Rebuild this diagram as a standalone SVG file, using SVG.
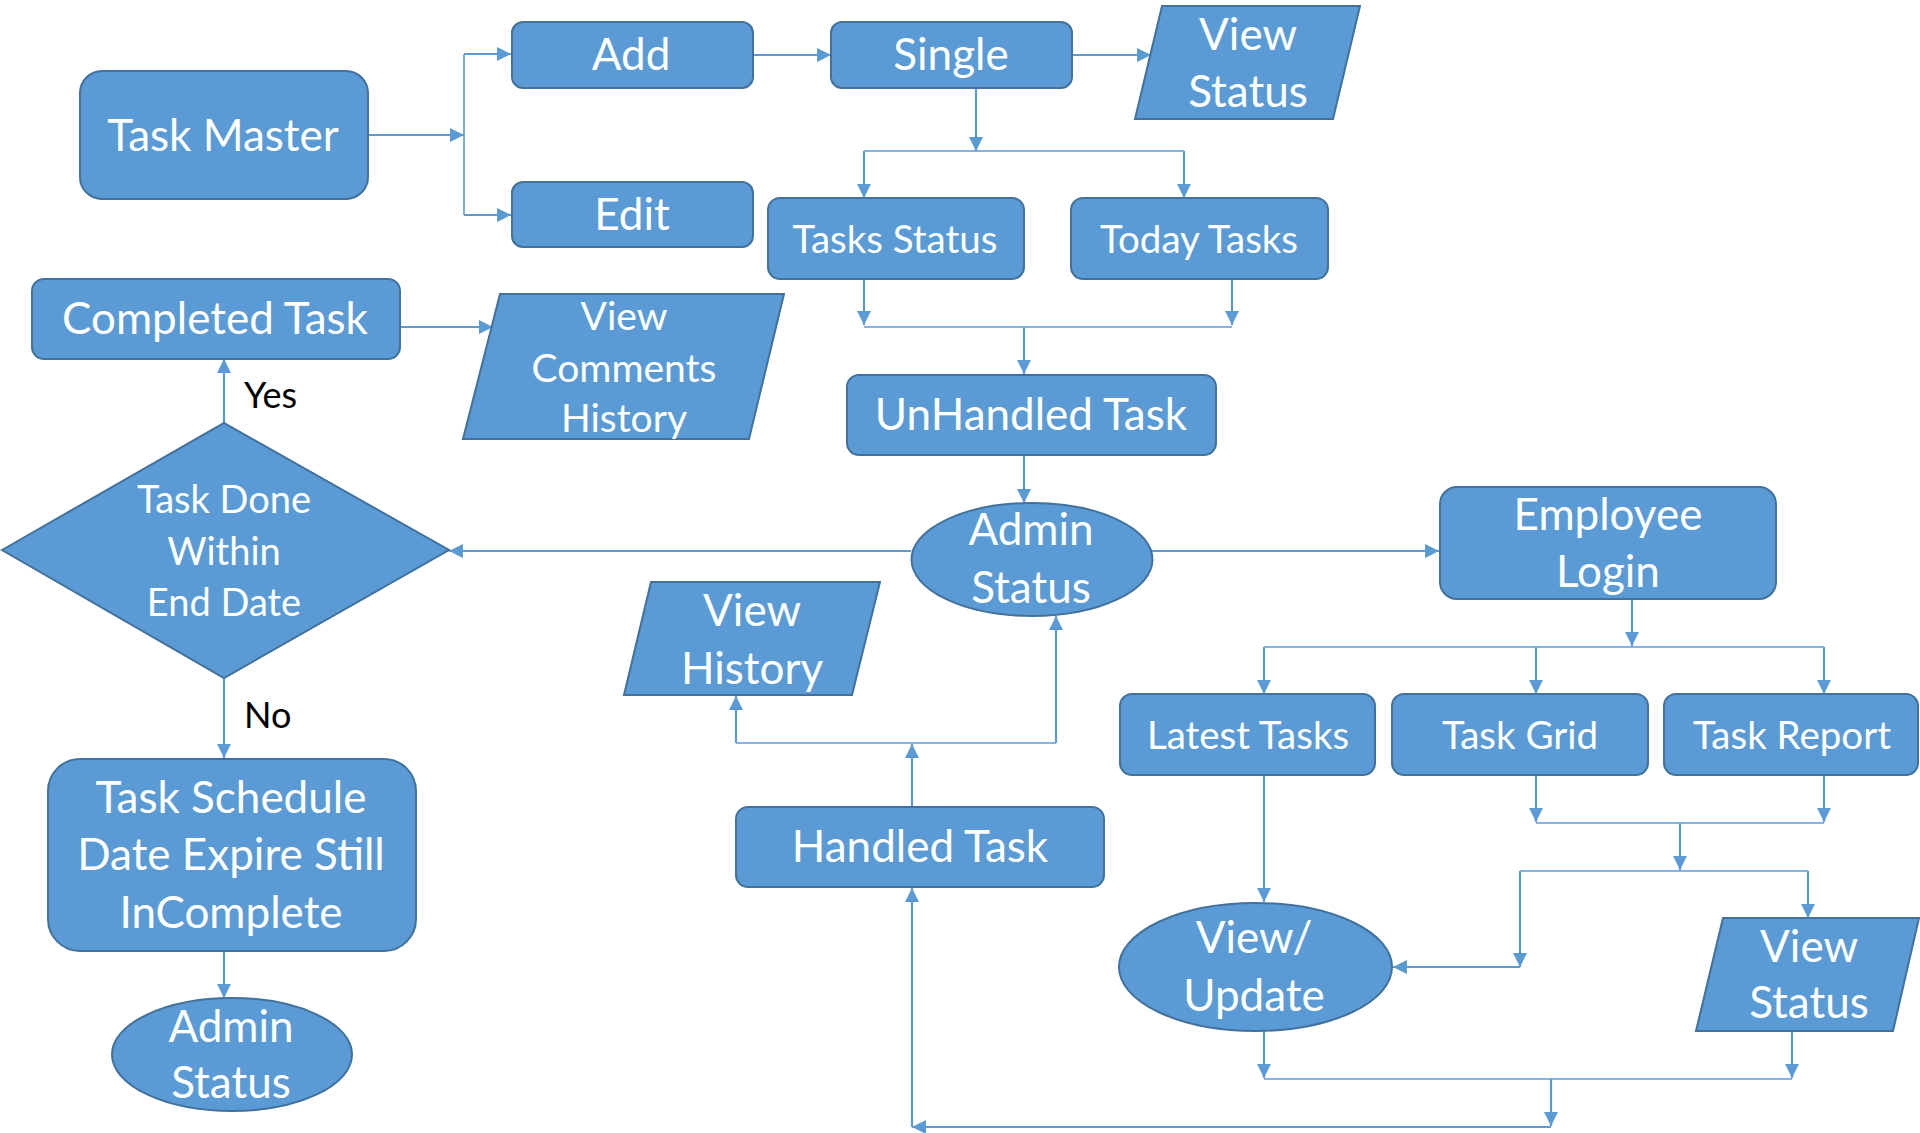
<svg xmlns="http://www.w3.org/2000/svg" width="1920" height="1133" viewBox="0 0 1920 1133">
  <defs>
    <marker id="arrow" viewBox="0 0 14 14" refX="14" refY="7" markerWidth="14" markerHeight="14" markerUnits="userSpaceOnUse" orient="auto">
      <path d="M0,0 L14,7 L0,14 z" fill="#5B9BD5"/>
    </marker>
    <style>
      .shape { fill: #5B9BD5; stroke: #41719C; stroke-width: 2; }
      .lbl { font-family: Lato, "Liberation Sans", sans-serif; fill: #FFFFFF; text-anchor: middle; }
      .big { font-size: 44px; }
      .mid { font-size: 38.5px; }
      .cmt { font-size: 39px; }
      .sm { font-size: 38px; }
      .edge { font-family: Lato, "Liberation Sans", sans-serif; font-size: 36px; fill: #000000; }
      .conn path { fill: none; stroke: #5B9BD5; stroke-width: 2.2; }
      .conn path.arr { marker-end: url(#arrow); }
      .conn path.bus { stroke-width: 1.6; }
    </style>
  </defs>
  <rect width="1920" height="1133" fill="#FFFFFF"/>

  <!-- connectors -->
  <g id="connectors" class="conn">
    <path class="arr" d="M368,135 H464"/>
    <path class="bus" d="M464,54 V215"/>
    <path class="arr" d="M464,54 H511"/>
    <path class="arr" d="M464,215 H511"/>
    <path class="arr" d="M753,55 H831"/>
    <path class="arr" d="M1072,55 H1151"/>
    <path class="arr" d="M976,88 V151"/>
    <path class="bus" d="M864,151 H1184"/>
    <path class="arr" d="M864,151 V198"/>
    <path class="arr" d="M1184,151 V198"/>
    <path class="arr" d="M864,279 V325"/>
    <path class="arr" d="M1232,279 V325"/>
    <path class="bus" d="M864,327 H1232"/>
    <path class="arr" d="M1024,327 V374"/>
    <path class="arr" d="M1024,456 V503"/>
    <path class="arr" d="M911,551 H449"/>
    <path class="arr" d="M1152,551 H1439"/>
    <path class="arr" d="M224,423 V359"/>
    <path class="arr" d="M400,327 H493"/>
    <path class="arr" d="M224,678 V758"/>
    <path class="arr" d="M224,951 V998"/>
    <path class="arr" d="M1632,599 V646"/>
    <path class="bus" d="M1264,647 H1824"/>
    <path class="arr" d="M1264,647 V694"/>
    <path class="arr" d="M1536,647 V694"/>
    <path class="arr" d="M1824,647 V694"/>
    <path class="arr" d="M1264,774 V902"/>
    <path class="arr" d="M1536,775 V822"/>
    <path class="arr" d="M1824,775 V822"/>
    <path class="bus" d="M1536,823 H1824"/>
    <path class="arr" d="M1680,823 V870"/>
    <path class="bus" d="M1520,871 H1808"/>
    <path class="arr" d="M1520,871 V967"/>
    <path class="arr" d="M1520,967 H1393"/>
    <path class="arr" d="M1808,871 V918"/>
    <path class="arr" d="M1264,1031 V1078"/>
    <path class="arr" d="M1792,1031 V1078"/>
    <path class="bus" d="M1264,1079 H1792"/>
    <path class="arr" d="M1551,1079 V1126"/>
    <path class="arr" d="M1551,1127 H912"/>
    <path class="arr" d="M912,1127 V888"/>
    <path class="arr" d="M912,806 V744"/>
    <path class="bus" d="M736,743 H1056"/>
    <path class="arr" d="M736,743 V696"/>
    <path class="arr" d="M1056,743 V616"/>
  </g>

  <!-- edge labels -->
  <text class="edge" x="244" y="408">Yes</text>
  <text class="edge" x="244" y="728">No</text>

  <!-- nodes -->
  <g id="task-master">
    <rect class="shape" x="80" y="71" width="288" height="128" rx="22"/>
    <text class="lbl big" x="223" y="151">Task Master</text>
  </g>
  <g id="add">
    <rect class="shape" x="512" y="22" width="241" height="66" rx="11"/>
    <text class="lbl big" x="631" y="70">Add</text>
  </g>
  <g id="edit">
    <rect class="shape" x="512" y="182" width="241" height="65" rx="11"/>
    <text class="lbl big" x="632" y="230">Edit</text>
  </g>
  <g id="single">
    <rect class="shape" x="831" y="22" width="241" height="66" rx="11"/>
    <text class="lbl big" x="951" y="70">Single</text>
  </g>
  <g id="view-status-top">
    <polygon class="shape" points="1162,6 1360,6 1333,119 1135,119"/>
    <text class="lbl big" x="1248" y="50">View</text>
    <text class="lbl big" x="1248" y="107">Status</text>
  </g>
  <g id="tasks-status">
    <rect class="shape" x="768" y="198" width="256" height="81" rx="12"/>
    <text class="lbl mid" x="895" y="253">Tasks Status</text>
  </g>
  <g id="today-tasks">
    <rect class="shape" x="1071" y="198" width="257" height="81" rx="12"/>
    <text class="lbl mid" x="1199" y="253">Today Tasks</text>
  </g>
  <g id="completed-task">
    <rect class="shape" x="32" y="279" width="368" height="80" rx="12"/>
    <text class="lbl big" x="215" y="334">Completed Task</text>
  </g>
  <g id="view-comments-history">
    <polygon class="shape" points="500,294 784,294 749,439 463,439"/>
    <text class="lbl cmt" x="624" y="330">View</text>
    <text class="lbl cmt" x="624" y="382">Comments</text>
    <text class="lbl cmt" x="624" y="432">History</text>
  </g>
  <g id="unhandled-task">
    <rect class="shape" x="847" y="375" width="369" height="80" rx="12"/>
    <text class="lbl big" x="1031" y="430">UnHandled Task</text>
  </g>
  <g id="admin-status">
    <ellipse class="shape" cx="1032" cy="559.5" rx="120.5" ry="56.5"/>
    <text class="lbl big" x="1031" y="545">Admin</text>
    <text class="lbl big" x="1031" y="603">Status</text>
  </g>
  <g id="task-done-decision">
    <polygon class="shape" points="2,550 224,423 449,550 224,678"/>
    <text class="lbl sm" x="224" y="513">Task Done</text>
    <text class="lbl sm" x="224" y="565">Within</text>
    <text class="lbl sm" x="224" y="616">End Date</text>
  </g>
  <g id="employee-login">
    <rect class="shape" x="1440" y="487" width="336" height="112" rx="17"/>
    <text class="lbl big" x="1608" y="530">Employee</text>
    <text class="lbl big" x="1608" y="587">Login</text>
  </g>
  <g id="view-history">
    <polygon class="shape" points="651,582 880,582 852,695 624,695"/>
    <text class="lbl big" x="752" y="626">View</text>
    <text class="lbl big" x="752" y="684">History</text>
  </g>
  <g id="latest-tasks">
    <rect class="shape" x="1120" y="694" width="255" height="81" rx="12"/>
    <text class="lbl mid" x="1248" y="749">Latest Tasks</text>
  </g>
  <g id="task-grid">
    <rect class="shape" x="1392" y="694" width="256" height="81" rx="12"/>
    <text class="lbl mid" x="1520" y="749">Task Grid</text>
  </g>
  <g id="task-report">
    <rect class="shape" x="1664" y="694" width="254" height="81" rx="12"/>
    <text class="lbl mid" x="1792" y="749">Task Report</text>
  </g>
  <g id="handled-task">
    <rect class="shape" x="736" y="807" width="368" height="80" rx="12"/>
    <text class="lbl big" x="920" y="862">Handled Task</text>
  </g>
  <g id="view-update">
    <ellipse class="shape" cx="1255.5" cy="967" rx="136.5" ry="64"/>
    <text class="lbl big" x="1254" y="953">View/</text>
    <text class="lbl big" x="1254" y="1011">Update</text>
  </g>
  <g id="view-status-bottom">
    <polygon class="shape" points="1723,918 1919,918 1893,1031 1696,1031"/>
    <text class="lbl big" x="1809" y="962">View</text>
    <text class="lbl big" x="1809" y="1018">Status</text>
  </g>
  <g id="task-schedule-expired">
    <rect class="shape" x="48" y="759" width="368" height="192" rx="32"/>
    <text class="lbl big" x="231" y="813">Task Schedule</text>
    <text class="lbl big" x="231" y="870">Date Expire Still</text>
    <text class="lbl big" x="231" y="928">InComplete</text>
  </g>
  <g id="admin-status-expired">
    <ellipse class="shape" cx="232" cy="1054.5" rx="120" ry="56.5"/>
    <text class="lbl big" x="231" y="1042">Admin</text>
    <text class="lbl big" x="231" y="1098">Status</text>
  </g>
</svg>
